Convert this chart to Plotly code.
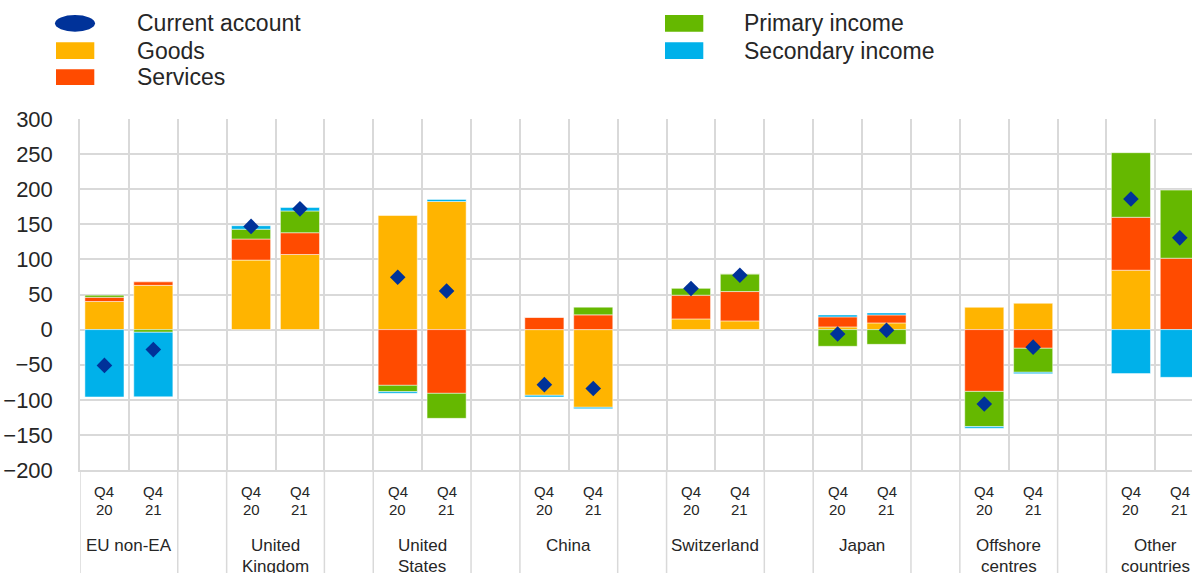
import plotly.graph_objects as go

# ---------------- data ----------------
groups = ["EU non-EA", "United<br>Kingdom", "United<br>States", "China",
          "Switzerland", "Japan", "Offshore<br>centres", "Other<br>countries"]
periods = ["Q4<br>20", "Q4<br>21"]

goods = [40.0, 63.0, 99.0, 107.0, 162.5, 182.5, -93.6, -110.7,
         15.2, 12.4, 3.8, 9.5, 31.8, 37.5, 84.6, 0.0]
services = [6.0, 5.0, 30.0, 31.0, -79.4, -90.8, 17.6, 21.0,
            33.8, 41.8, 14.3, 11.4, -88.0, -26.6, 75.4, 101.7]
primary = [3.0, -3.8, 14.0, 31.0, -9.0, -35.6, 0.0, 11.0,
           10.2, 25.2, -23.8, -21.0, -50.0, -34.2, 92.0, 97.0]
secondary = [-96.0, -92.0, 5.0, 5.0, -2.4, 3.0, -2.4, -2.0,
             0.0, 0.0, 2.8, 2.9, -2.4, -2.0, -62.7, -68.0]
current = [-51.0, -28.5, 147.0, 172.0, 74.6, 55.0, -78.4, -84.0,
           58.5, 77.5, -6.2, -1.0, -106.0, -25.0, 186.0, 130.7]

series_names = ["Goods", "Services", "Primary income", "Secondary income"]
series_vals = [goods, services, primary, secondary]

# ---------------- style ----------------
colors = {"Current account": "#003299", "Goods": "#FFB400", "Services": "#FF4B00",
          "Primary income": "#65B800", "Secondary income": "#00B1EA"}
FONT = "Liberation Sans, Arial, sans-serif"
TXT = "#262626"
GRID = "#d9d9d9"

W, H = 1192, 573
L, R, T, B = 80, 0, 119, 103
SLOT_PX = 48.88
plot_w = W - L - R
plot_h = H - T - B


def pxx(x):
    return (x - L) / plot_w


def pxy(y):
    return (H - B - y) / plot_h


n_per = len(periods)
stride = n_per + 1
xs = [stride * g + q for g in range(len(groups)) for q in range(n_per)]
n_slots = stride * len(groups)

fig = go.Figure()
for name, vals in zip(series_names, series_vals):
    fig.add_bar(x=xs, y=vals, name=name,
                marker=dict(color=colors[name], line=dict(color="white", width=0.5)))
fig.add_scatter(x=xs, y=current, mode="markers", name="Current account",
                marker=dict(symbol="diamond", size=12, color=colors["Current account"]))

x_max = -0.5 + plot_w / SLOT_PX

fig.update_layout(
    width=W, height=H, margin=dict(l=L, r=R, t=T, b=B, pad=0),
    barmode="relative", bargap=0.2, showlegend=False,
    plot_bgcolor="white", paper_bgcolor="white",
    font=dict(family=FONT, color=TXT),
)
fig.update_xaxes(range=[-0.5, x_max], tickvals=[k - 0.5 for k in range(n_slots + 1)],
                 showticklabels=False, showgrid=True, gridcolor=GRID, gridwidth=1.5,
                 zeroline=False, showline=True, linecolor=GRID, linewidth=1.5, ticks="")
fig.update_yaxes(range=[-200, 300], dtick=50, tick0=0, showgrid=True, gridcolor=GRID,
                 gridwidth=1.5, zeroline=False, showline=True, linecolor=GRID, linewidth=1.5,
                 ticks="", ticklabelstandoff=21, tickfont=dict(size=22, color=TXT, family=FONT))

shapes = []
annotations = []
# separator lines extending into the label area
for g in range(len(groups)):
    for xv in (stride * g - 0.5, stride * g + n_per - 0.5):
        shapes.append(dict(type="line", xref="x", yref="paper", x0=xv, x1=xv,
                           y0=0, y1=pxy(H + 10), line=dict(color=GRID, width=1.5)))

# period labels and group labels
for g, gname in enumerate(groups):
    for q, p in enumerate(periods):
        xv = stride * g + q
        for line, yc in zip(p.split("<br>"), (491, 509)):
            annotations.append(dict(x=xv, y=pxy(yc), xref="x", yref="paper", text=line,
                                    showarrow=False, xanchor="center", yanchor="middle",
                                    font=dict(size=15, color=TXT, family=FONT)))
    xc = stride * g + (n_per - 1) / 2
    for line, yc in zip(gname.split("<br>"), (545, 566)):
        annotations.append(dict(x=xc, y=pxy(yc), xref="x", yref="paper", text=line,
                                showarrow=False, xanchor="center", yanchor="middle",
                                font=dict(size=17, color=TXT, family=FONT)))

# manual legend
legend_items = [("Current account", 55, 95, 15, 31.7, "circle", 135),
                ("Goods", 56, 94.3, 42.3, 59, "rect", 135),
                ("Services", 56, 94.3, 69.3, 85, "rect", 135),
                ("Primary income", 665, 703.3, 15, 31.7, "rect", 742),
                ("Secondary income", 665, 703.3, 42.3, 59, "rect", 742)]
for name, x0, x1, y0, y1, kind, tx in legend_items:
    shapes.append(dict(type=kind, xref="paper", yref="paper", x0=pxx(x0), x1=pxx(x1),
                       y0=pxy(y1), y1=pxy(y0), fillcolor=colors[name],
                       line=dict(width=0)))
    annotations.append(dict(x=pxx(tx), y=pxy((y0 + y1) / 2), xref="paper", yref="paper",
                            text=name, showarrow=False, xanchor="left", yanchor="middle",
                            font=dict(size=23, color=TXT, family=FONT)))

fig.update_layout(shapes=shapes, annotations=annotations)

fig.write_html("out.html", config={"displayModeBar": False},
               post_script="document.body.style.margin='0';document.body.style.overflow='hidden';")
